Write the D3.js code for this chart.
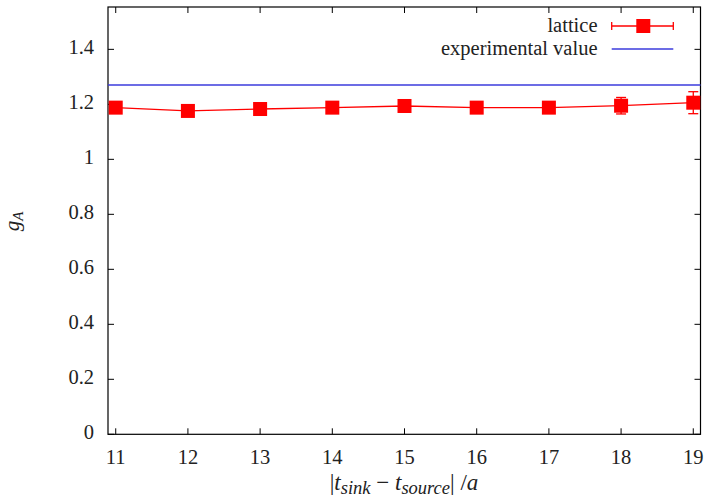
<!DOCTYPE html>
<html><head><meta charset="utf-8">
<script src="https://cdn.jsdelivr.net/npm/d3@7"></script>
<style>body{margin:0;background:#fff} svg text{font-family:'Liberation Serif','Times New Roman',serif}</style>
</head><body><svg id="c" width="709" height="502"></svg>
<script>
const tValues = [11,12,13,14,15,16,17,18,19];
const gA = [1.188,1.176,1.183,1.188,1.194,1.188,1.188,1.195,1.206];
const gAerr = [0.008,0.006,0.007,0.007,0.008,0.008,0.009,0.03,0.04];
const expValue = 1.27;
const yTicks = [0,0.2,0.4,0.6,0.8,1,1.2,1.4];
const xTicks = [11,12,13,14,15,16,17,18,19];

const svg = d3.select("#c");
const FF="Liberation Serif";
const L=108,R=700.5,T=7,B=434.3;
const x = d3.scaleLinear().domain([10.893,19.1]).range([L,R]);
const y = d3.scaleLinear().domain([0,1.554]).range([B,T]);
const red="#ff0000", blue="#3b3bdd", txt="#222";
const FS=20.5;
function T_(sel){return sel.append("text").style("font-family",FF).attr("fill",txt);}

svg.append("rect").attr("x",L).attr("y",T).attr("width",R-L).attr("height",B-T)
  .attr("fill","none").attr("stroke","#000").attr("stroke-width",1.2);

const tl=6;
xTicks.forEach(v=>{
  svg.append("line").attr("x1",x(v)).attr("x2",x(v)).attr("y1",B).attr("y2",B-tl).attr("stroke","#000");
  svg.append("line").attr("x1",x(v)).attr("x2",x(v)).attr("y1",T).attr("y2",T+tl).attr("stroke","#000");
  T_(svg).attr("x",x(v)).attr("y",463.5).attr("text-anchor","middle").attr("font-size",FS).text(v);
});
yTicks.forEach(v=>{
  svg.append("line").attr("x1",L).attr("x2",L+tl).attr("y1",y(v)).attr("y2",y(v)).attr("stroke","#000");
  svg.append("line").attr("x1",R).attr("x2",R-tl).attr("y1",y(v)).attr("y2",y(v)).attr("stroke","#000");
  T_(svg).attr("x",94).attr("y",y(v)+4.5).attr("text-anchor","end").attr("font-size",FS).text(d3.format("")(v));
});

svg.append("line").attr("x1",L).attr("x2",R).attr("y1",y(expValue)).attr("y2",y(expValue))
  .attr("stroke",blue).attr("stroke-width",1.5);

const line = d3.line().x((d,i)=>x(tValues[i])).y(d=>y(d));
svg.append("path").attr("d",line(gA)).attr("fill","none").attr("stroke",red).attr("stroke-width",1.3);
gA.forEach((v,i)=>{
  const cx=x(tValues[i]), cap=5;
  const g=svg.append("g").attr("stroke",red).attr("stroke-width",1.3);
  g.append("line").attr("x1",cx).attr("x2",cx).attr("y1",y(v-gAerr[i])).attr("y2",y(v+gAerr[i]));
  g.append("line").attr("x1",cx-cap).attr("x2",cx+cap).attr("y1",y(v-gAerr[i])).attr("y2",y(v-gAerr[i]));
  g.append("line").attr("x1",cx-cap).attr("x2",cx+cap).attr("y1",y(v+gAerr[i])).attr("y2",y(v+gAerr[i]));
});
const ms=14;
svg.selectAll("rect.m").data(gA).enter().append("rect").attr("class","m")
  .attr("x",(d,i)=>x(tValues[i])-ms/2).attr("y",d=>y(d)-ms/2).attr("width",ms).attr("height",ms).attr("fill",red);

const lx1=611.7,lx2=673.3;
T_(svg).attr("x",597.5).attr("y",31.5).attr("text-anchor","end").attr("font-size",FS).text("lattice");
svg.append("line").attr("x1",lx1).attr("x2",lx2).attr("y1",26).attr("y2",26).attr("stroke",red).attr("stroke-width",1.3);
[lx1,lx2].forEach(xx=>svg.append("line").attr("x1",xx).attr("x2",xx).attr("y1",22).attr("y2",30).attr("stroke",red).attr("stroke-width",1.3));
svg.append("rect").attr("x",643.3-ms/2).attr("y",26-ms/2).attr("width",ms).attr("height",ms).attr("fill",red);
T_(svg).attr("x",597.5).attr("y",54.5).attr("text-anchor","end").attr("font-size",FS).text("experimental value");
svg.append("line").attr("x1",lx1).attr("x2",lx2).attr("y1",49).attr("y2",49).attr("stroke",blue).attr("stroke-width",1.5);

// y label (rotated)
const yl=T_(svg).attr("transform","translate(19,221.5) rotate(-90)").attr("text-anchor","middle").attr("font-size",21).attr("font-style","italic");
yl.append("tspan").text("g");
yl.append("tspan").attr("font-size",15).attr("dy",4).text("A");

// x label
const M=23, S=18.5;
const xl=T_(svg).attr("x",404).attr("y",490).attr("text-anchor","middle").attr("font-size",M);
xl.append("tspan").text("|");
xl.append("tspan").attr("font-style","italic").text("t");
xl.append("tspan").attr("font-style","italic").attr("font-size",S).attr("dy",4).text("sink");
xl.append("tspan").attr("dy",-4).text(" \u2212 ");
xl.append("tspan").attr("font-style","italic").text("t");
xl.append("tspan").attr("font-style","italic").attr("font-size",S).attr("dy",4).text("source");
xl.append("tspan").attr("dy",-4).text("| /");
xl.append("tspan").attr("font-style","italic").text("a");
</script></body></html>
